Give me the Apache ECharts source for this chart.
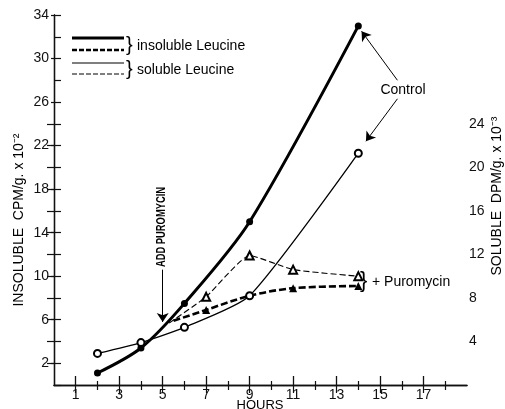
<!DOCTYPE html>
<html><head><meta charset="utf-8">
<script src="https://cdn.jsdelivr.net/npm/echarts@6/dist/echarts.min.js"></script>
<style>html,body{margin:0;padding:0;background:#fff}#c{width:505px;height:409px}</style>
</head><body><div id="c"></div>
<script>
// ---- data ----
const xTickLabels = [1,3,5,7,9,11,13,15,17];
const xMinorTicks = [2,4,6,8,10,12,14,16,18];
const leftTickLabels = [2,6,10,14,18,22,26,30,34];
const rightTickLabels = [4,8,12,16,20,24];
const rightTicks = [2,4,6,8,10,12,14,16,18,20,22,24];

const insolCtrlHours = [2,4,6,9,14];
const insolCtrl = [1.1,3.4,7.5,15.0,33.0];
const solCtrlHours = [2,4,6,9,14];
const solCtrl = [2.9,3.9,5.3,8.2,21.3];
const insolPuroHours = [5.5,7,9,11,14];
const insolPuro = [5.9,6.9,8.2,8.9,9.1];
const insolPuroMarked = [false,true,false,true,true];
const solPuroHours = [5.3,7,9,11,14];
const solPuro = [5.7,8.1,11.9,10.6,10.0];
const solPuroMarked = [false,true,true,true,true];

const FONT = 'Liberation Sans, Arial, sans-serif';
const pairs = (xs, ys) => xs.map((x,i)=>[x, ys[i]]);

const chart = echarts.init(document.getElementById('c'), null, {renderer:'canvas'});
const axisLine = {show:true, lineStyle:{color:'#111', width:1.3}};
const noLabel = {show:false};
const baseX = {type:'value', min:0, max:19, splitLine:{show:false}};
const baseY = {type:'value', min:0, max:34, interval:2, splitLine:{show:false}};
const arrowLine = (a, b) => [{coord:a},{coord:b}];

const option = {
  animation:false,
  backgroundColor:'#fff',
  grid:{left:54, right:38, top:15, bottom:24, containLabel:false},
  xAxis:[
    Object.assign({}, baseX, {position:'bottom', axisLine,
      axisTick:{show:true, inside:true, length:9, customValues:xTickLabels, lineStyle:{color:'#111', width:1.3}},
      axisLabel:{show:true, customValues:xTickLabels, color:'#111', fontSize:14, fontFamily:FONT, margin:3}}),
    Object.assign({}, baseX, {position:'bottom', axisLine:{show:false},
      axisTick:{show:true, inside:true, length:4, customValues:xMinorTicks, lineStyle:{color:'#111', width:1.2}},
      axisLabel:noLabel}),
    Object.assign({}, baseX, {position:'top', axisLine,
      axisTick:{show:true, inside:true, length:8, customValues:xTickLabels, lineStyle:{color:'#111', width:1.2}},
      axisLabel:noLabel}),
    Object.assign({}, baseX, {position:'top', axisLine:{show:false},
      axisTick:{show:true, inside:true, length:5, customValues:xMinorTicks, lineStyle:{color:'#111', width:1.2}},
      axisLabel:noLabel})
  ],
  yAxis:[
    Object.assign({}, baseY, {position:'left', axisLine,
      axisTick:{show:true, inside:true, length:7, lineStyle:{color:'#111', width:1.2}},
      axisLabel:{show:true, customValues:leftTickLabels, color:'#111', fontSize:14, fontFamily:FONT, margin:5}}),
    Object.assign({}, baseY, {position:'right', axisLine,
      axisTick:{show:true, inside:true, length:7, customValues:rightTicks, lineStyle:{color:'#111', width:1.2}},
      axisLabel:{show:true, customValues:rightTickLabels, color:'#111', fontSize:14, fontFamily:FONT, margin:2}}),
    Object.assign({}, baseY, {position:'left', axisLine:{show:false},
      axisTick:{show:true, inside:false, length:3, customValues:leftTickLabels, lineStyle:{color:'#111', width:1.2}},
      axisLabel:noLabel}),
    Object.assign({}, baseY, {position:'right', axisLine:{show:false},
      axisTick:{show:true, inside:false, length:2, customValues:rightTickLabels, lineStyle:{color:'#111', width:1.2}},
      axisLabel:noLabel})
  ],
  series:[
    {name:'insoluble control', type:'line', xAxisIndex:0, yAxisIndex:0, smooth:0.3,
      data:pairs(insolCtrlHours, insolCtrl), symbol:'circle', symbolSize:7,
      lineStyle:{color:'#000', width:3}, itemStyle:{color:'#000'},
      markLine:{silent:true, symbol:['none','arrow'], symbolSize:9, label:{show:false},
        emphasis:{disabled:true},
        lineStyle:{color:'#000', width:1, type:'solid'},
        data:[
          arrowLine([15.8,28.0],[14.15,32.5]),
          arrowLine([15.8,26.3],[14.35,22.4]),
          arrowLine([5,10.6],[5,5.8])
        ]}},
    {name:'soluble control', type:'line', xAxisIndex:0, yAxisIndex:1, smooth:0.2,
      data:pairs(solCtrlHours, solCtrl), symbol:'emptyCircle', symbolSize:7,
      lineStyle:{color:'#000', width:1.3}, itemStyle:{color:'#000', borderColor:'#000', borderWidth:1.2}},
    {name:'insoluble puromycin', type:'line', xAxisIndex:0, yAxisIndex:0, smooth:0.3,
      data:pairs(insolPuroHours, insolPuro),
      symbol:(v,p)=> insolPuroMarked[p.dataIndex] ? 'triangle' : 'none', symbolSize:8,
      lineStyle:{color:'#000', width:2.6, type:[7,3]}, itemStyle:{color:'#000'}},
    {name:'soluble puromycin', type:'line', xAxisIndex:0, yAxisIndex:1, smooth:0.15,
      data:pairs(solPuroHours, solPuro),
      symbol:(v,p)=> solPuroMarked[p.dataIndex] ? 'emptyTriangle' : 'none', symbolSize:8,
      lineStyle:{color:'#000', width:1.1, type:[6,3]}, itemStyle:{color:'#000', borderColor:'#000', borderWidth:1.1}}
  ],
  graphic:[
    // legend keys
    {type:'line', shape:{x1:72,y1:38,x2:124,y2:38}, style:{stroke:'#000', lineWidth:3}},
    {type:'line', shape:{x1:72,y1:50,x2:124,y2:50}, style:{stroke:'#000', lineWidth:2.5, lineDash:[5,2]}},
    {type:'line', shape:{x1:72,y1:63,x2:124,y2:63}, style:{stroke:'#000', lineWidth:1.2}},
    {type:'line', shape:{x1:72,y1:74,x2:124,y2:74}, style:{stroke:'#000', lineWidth:1, lineDash:[5,2]}},
    {type:'text', x:126, y:45, style:{text:'}', font:'20px '+FONT, fill:'#000', verticalAlign:'middle'}},
    {type:'text', x:126, y:69, style:{text:'}', font:'20px '+FONT, fill:'#000', verticalAlign:'middle'}},
    {type:'text', x:137, y:46, style:{text:'insoluble Leucine', font:'14px '+FONT, fill:'#000', verticalAlign:'middle'}},
    {type:'text', x:137, y:70, style:{text:'soluble Leucine', font:'14px '+FONT, fill:'#000', verticalAlign:'middle'}},
    // annotations
    {type:'text', x:403, y:90, style:{text:'Control', font:'14px '+FONT, fill:'#000', align:'center', verticalAlign:'middle'}},
    {type:'text', x:360, y:281, style:{text:'}', font:'22px '+FONT, fill:'#000', verticalAlign:'middle'}},
    {type:'text', x:372, y:282, style:{text:'+ Puromycin', font:'14px '+FONT, fill:'#000', verticalAlign:'middle'}},
    {type:'text', x:161, y:227, rotation:Math.PI/2, scaleX:0.72, style:{text:'ADD PUROMYCIN', font:'bold 13px '+FONT, fill:'#000', align:'center', verticalAlign:'middle'}},
    // axis titles
    {type:'text', x:19, y:220, rotation:Math.PI/2, style:{text:'INSOLUBLE  CPM/g. x 10⁻²', font:'14px '+FONT, fill:'#000', align:'center', verticalAlign:'middle'}},
    {type:'text', x:497, y:196, rotation:Math.PI/2, style:{text:'SOLUBLE  DPM/g. x 10⁻³', font:'14px '+FONT, fill:'#000', align:'center', verticalAlign:'middle'}},
    {type:'text', x:260, y:405, style:{text:'HOURS', font:'13px '+FONT, fill:'#000', align:'center', verticalAlign:'middle'}}
  ]
};
chart.setOption(option);
</script></body></html>
